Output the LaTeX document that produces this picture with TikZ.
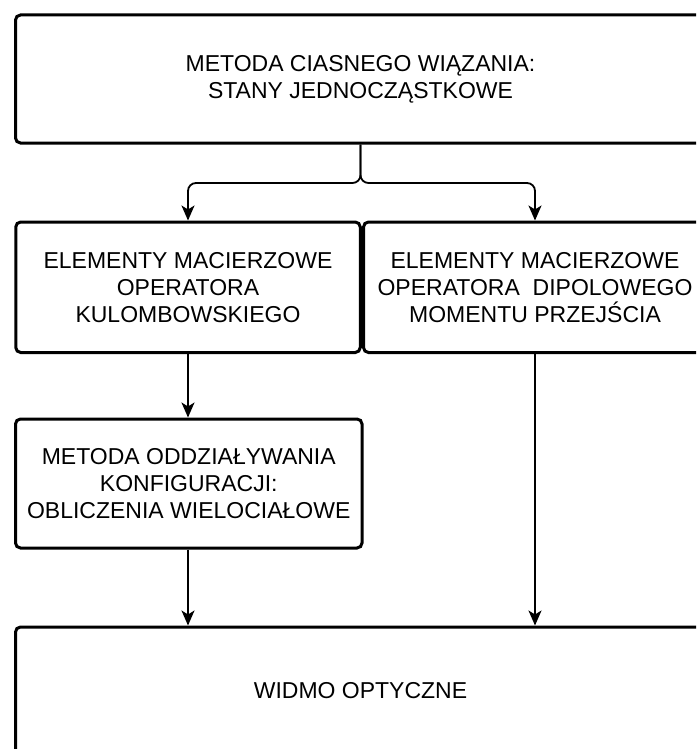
\documentclass[tikz,border=0pt]{standalone}
\usepackage{fontspec}
\setmainfont{Liberation Sans}
\usetikzlibrary{arrows.meta}

\begin{document}
\begin{tikzpicture}[x=1pt, y=-1pt,
        blok/.style={draw, line width=3pt, rounded corners=5pt, align=center, inner sep=0pt,
            font=\fontsize{23}{27}\selectfont},
        strz/.style={-{Stealth[length=15pt, width=13pt, inset=4pt]}, line width=1.8pt}]

        \useasboundingbox (0,0) rectangle (696,749);
        \clip (0,0) rectangle (696,749);

        \node[blok, minimum width=690pt, minimum height=128pt] (ciasne) at (360.5,79) {METODA CIASNEGO WIĄZANIA:\\STANY JEDNOCZĄSTKOWE};

        \node[blok, minimum width=344.5pt, minimum height=130.5pt] (kulomb) at (188,287.25) {ELEMENTY MACIERZOWE\\OPERATORA\\KULOMBOWSKIEGO};
        \node[blok, minimum width=343pt, minimum height=130.5pt] (dipol) at (535,287.25) {ELEMENTY MACIERZOWE\\OPERATORA\ \ DIPOLOWEGO\\MOMENTU PRZEJŚCIA};

        \node[blok, minimum width=346.5pt, minimum height=129pt] (konfig) at (188.75,483.5) {METODA ODDZIAŁYWANIA\\KONFIGURACJI:\\OBLICZENIA WIELOCIAŁOWE};

        \node[blok, minimum width=690pt, minimum height=128pt] (widmo) at (360.5,691) {WIDMO OPTYCZNE};

        \coordinate (rozg) at (0,183);

        \draw[strz, rounded corners=8pt] (ciasne.south) -- (ciasne.south |- rozg) -| (kulomb.north);
        \draw[strz, rounded corners=8pt] (ciasne.south) -- (ciasne.south |- rozg) -| (dipol.north);

        \draw[strz] (kulomb.south) -- (kulomb.south |- konfig.north);
        \draw[strz] (kulomb.south |- konfig.south) -- (kulomb.south |- widmo.north);
        \draw[strz] (dipol.south) -- (dipol.south |- widmo.north);

    \end{tikzpicture}
\end{document}
